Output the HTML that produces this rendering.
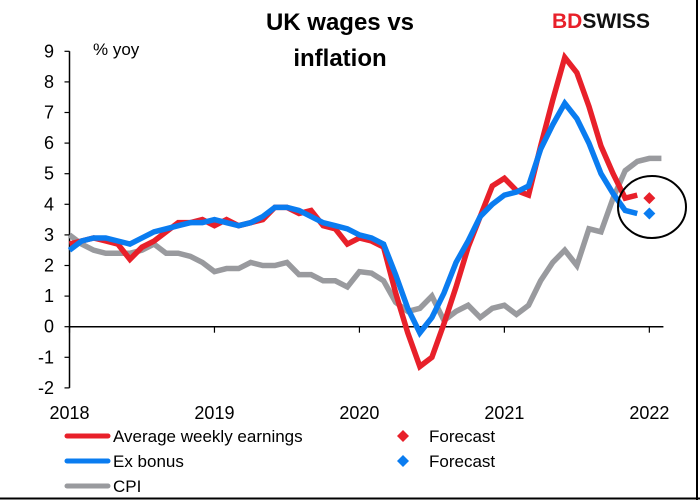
<!DOCTYPE html>
<html><head><meta charset="utf-8"><style>
html,body{margin:0;padding:0;background:#fff}
svg{display:block;font-family:"Liberation Sans",Arial,sans-serif}
</style></head><body>
<svg id="chart" width="700" height="500" viewBox="0 0 700 500">
<rect x="0" y="0" width="700" height="500" fill="#fff"/>
<line x1="697" y1="0" x2="697" y2="500" stroke="#000" stroke-width="2"/>
<line x1="0" y1="498.5" x2="700" y2="498.5" stroke="#000" stroke-width="2"/>
<text x="340" y="30" text-anchor="middle" font-size="24" font-weight="bold">UK wages vs</text>
<text x="340" y="66" text-anchor="middle" font-size="24" font-weight="bold">inflation</text>
<text x="552" y="28" font-size="21" font-weight="bold"><tspan fill="#e8202a">BD</tspan><tspan fill="#111">SWISS</tspan></text>
<text x="93" y="55" font-size="17">% yoy</text>
<g id="axes"></g>
<g id="series"></g>
<ellipse cx="652" cy="207" rx="34" ry="31" fill="none" stroke="#000" stroke-width="2"/>
<g id="legend" font-size="17">
<line x1="67" y1="436" x2="108" y2="436" stroke="#e8202a" stroke-width="5" stroke-linecap="round"/>
<text x="113" y="442">Average weekly earnings</text>
<line x1="67" y1="461" x2="108" y2="461" stroke="#0a7cf0" stroke-width="5" stroke-linecap="round"/>
<text x="113" y="467">Ex bonus</text>
<line x1="67" y1="486" x2="108" y2="486" stroke="#999a9e" stroke-width="5" stroke-linecap="round"/>
<text x="113" y="492">CPI</text>
<polygon points="403,430 409,436 403,442 397,436" fill="#e8202a"/>
<text x="429" y="442">Forecast</text>
<polygon points="403,455 409,461 403,467 397,461" fill="#0a7cf0"/>
<text x="429" y="467">Forecast</text>
</g>
</svg>
<script>
const yearLabels = ["2018","2019","2020","2021","2022"];
const yTicks = [-2,-1,0,1,2,3,4,5,6,7,8,9];
const awe = [2.7,2.8,2.9,2.8,2.7,2.2,2.6,2.8,3.1,3.4,3.4,3.5,3.3,3.5,3.3,3.4,3.5,3.9,3.9,3.7,3.8,3.3,3.2,2.7,2.9,2.8,2.6,1.1,-0.2,-1.3,-1.0,0.1,1.3,2.6,3.6,4.6,4.85,4.45,4.3,5.9,7.4,8.8,8.3,7.2,5.9,5.0,4.2,4.3];
const exBonus = [2.5,2.8,2.9,2.9,2.8,2.7,2.9,3.1,3.2,3.3,3.4,3.4,3.5,3.4,3.3,3.4,3.6,3.9,3.9,3.8,3.6,3.4,3.3,3.2,3.0,2.9,2.7,1.7,0.6,-0.2,0.3,1.1,2.1,2.8,3.6,4.0,4.3,4.4,4.6,5.8,6.6,7.3,6.8,6.0,5.0,4.35,3.8,3.7];
const cpi = [3.0,2.7,2.5,2.4,2.4,2.4,2.5,2.7,2.4,2.4,2.3,2.1,1.8,1.9,1.9,2.1,2.0,2.0,2.1,1.7,1.7,1.5,1.5,1.3,1.8,1.75,1.5,0.8,0.5,0.6,1.0,0.2,0.5,0.7,0.3,0.6,0.7,0.4,0.7,1.5,2.1,2.5,2.0,3.2,3.1,4.2,5.1,5.4,5.5,5.5];
const aweForecast = 4.2;
const exBonusForecast = 3.7;
const forecastMonth = 48;

const X0 = 69.5, PXM = 12.08, Y0 = 326.7, PXU = 30.6;
const xs = i => X0 + i * PXM;
const ys = v => Y0 - v * PXU;
const NS = "http://www.w3.org/2000/svg";
function mk(tag, parent){ const e = document.createElementNS(NS, tag); parent.appendChild(e); return e; }

const axes = document.getElementById("axes");
const yAxis = mk("line", axes);
yAxis.setAttribute("x1", X0); yAxis.setAttribute("x2", X0); yAxis.setAttribute("y1", ys(9)); yAxis.setAttribute("y2", ys(-2));
yAxis.setAttribute("stroke", "#000"); yAxis.setAttribute("stroke-width", "1.5");


yTicks.forEach(v => {
  const t = mk("line", axes);
  t.setAttribute("x1", X0 - 5); t.setAttribute("x2", X0); t.setAttribute("y1", ys(v)); t.setAttribute("y2", ys(v));
  t.setAttribute("stroke", "#000"); t.setAttribute("stroke-width", "1.2");
  
  
  const l = mk("text", axes);
  l.setAttribute("x", 54); l.setAttribute("y", ys(v) + 6); l.setAttribute("text-anchor", "end"); l.setAttribute("font-size", "18");
  l.textContent = v;
  
  
});
const xAxis = mk("line", axes);
xAxis.setAttribute("x1", X0); xAxis.setAttribute("x2", xs(49) + 2); xAxis.setAttribute("y1", Y0); xAxis.setAttribute("y2", Y0);
xAxis.setAttribute("stroke", "#000"); xAxis.setAttribute("stroke-width", "1.5");


yearLabels.forEach((lab, k) => {
  const x = xs(k * 12);
  const t = mk("line", axes);
  t.setAttribute("x1", x); t.setAttribute("x2", x); t.setAttribute("y1", Y0); t.setAttribute("y2", Y0 + 6);
  t.setAttribute("stroke", "#000"); t.setAttribute("stroke-width", "1.2");
  
  
  const l = mk("text", axes);
  l.setAttribute("x", x); l.setAttribute("y", 419); l.setAttribute("text-anchor", "middle"); l.setAttribute("font-size", "18");
  l.textContent = lab;
  
  
});

const series = document.getElementById("series");
function line(data, color, name){
  const p = mk("polyline", series);
  p.setAttribute("points", data.map((v, i) => xs(i) + "," + ys(v)).join(" "));
  p.setAttribute("fill", "none"); p.setAttribute("stroke", color); p.setAttribute("stroke-width", "5.5");
  p.setAttribute("stroke-linejoin", "miter");
  
  
}
line(cpi, "#999a9e", "cpi-line");
line(awe, "#e8202a", "awe-line");
line(exBonus, "#0a7cf0", "exbonus-line");
function diamond(v, color, name){
  const x = xs(forecastMonth), y = ys(v);
  const d = mk("polygon", series);
  d.setAttribute("points", `${x},${y-6} ${x+6},${y} ${x},${y+6} ${x-6},${y}`);
  d.setAttribute("fill", color);
  
  
}
diamond(aweForecast, "#e8202a", "awe-forecast-marker");
diamond(exBonusForecast, "#0a7cf0", "exbonus-forecast-marker");
</script>
</body></html>
